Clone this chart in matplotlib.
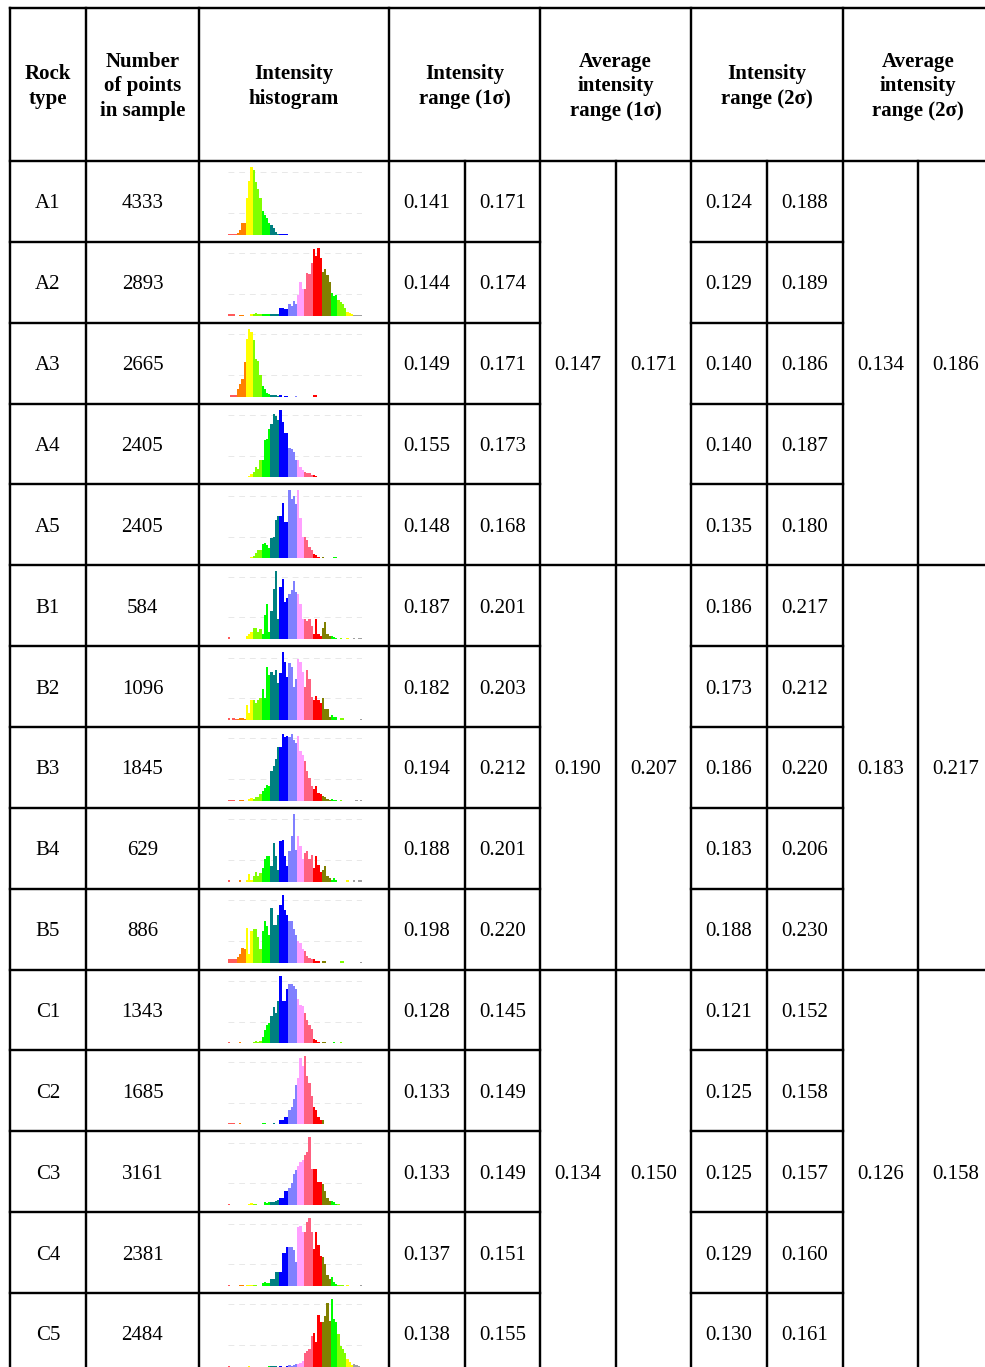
import matplotlib
matplotlib.use("Agg")
import matplotlib.pyplot as plt

# ---------------- data ----------------
rock_types = ["A1", "A2", "A3", "A4", "A5",
              "B1", "B2", "B3", "B4", "B5",
              "C1", "C2", "C3", "C4", "C5"]
n_points = [4333, 2893, 2665, 2405, 2405, 584, 1096, 1845, 629, 886,
            1343, 1685, 3161, 2381, 2484]
range1_lo = ["0.141", "0.144", "0.149", "0.155", "0.148", "0.187", "0.182", "0.194",
             "0.188", "0.198", "0.128", "0.133", "0.133", "0.137", "0.138"]
range1_hi = ["0.171", "0.174", "0.171", "0.173", "0.168", "0.201", "0.203", "0.212",
             "0.201", "0.220", "0.145", "0.149", "0.149", "0.151", "0.155"]
range2_lo = ["0.124", "0.129", "0.140", "0.140", "0.135", "0.186", "0.173", "0.186",
             "0.183", "0.188", "0.121", "0.125", "0.125", "0.129", "0.130"]
range2_hi = ["0.188", "0.189", "0.186", "0.187", "0.180", "0.217", "0.212", "0.220",
             "0.206", "0.230", "0.152", "0.158", "0.157", "0.160", "0.161"]
avg1_lo = ["0.147", "0.190", "0.134"]
avg1_hi = ["0.171", "0.207", "0.150"]
avg2_lo = ["0.134", "0.183", "0.126"]
avg2_hi = ["0.186", "0.217", "0.158"]

header_labels = ["Rock\ntype", "Number\nof points\nin sample", "Intensity\nhistogram",
                 "Intensity\nrange (1σ)", "Average\nintensity\nrange (1σ)",
                 "Intensity\nrange (2σ)", "Average\nintensity\nrange (2σ)"]

# histogram bar heights (relative counts, 60 bins each)
hist_A1 = [2, 2, 2, 2, 3, 7, 17, 17, 55, 80, 100, 95, 78, 68, 55, 35, 30, 25, 18, 14, 10, 4, 2,
           2, 2, 1, 1, 0, 0, 0, 0, 0, 0, 0, 0, 0, 0, 0, 0, 0, 0, 0, 0, 0, 0, 0, 0, 0, 0, 0,
           0, 0, 0, 0, 0, 0, 0, 0, 0, 0]
hist_A2 = [2, 2, 2, 0, 0, 1, 1, 0, 0, 0, 2, 3, 4, 3, 3, 2, 3, 3, 2, 3, 3, 3, 2, 11, 11, 10, 10,
           17, 14, 22, 18, 30, 49, 39, 39, 63, 61, 78, 99, 88, 100, 85, 64, 69, 60, 49, 34, 29,
           30, 23, 20, 17, 12, 6, 4, 2, 1, 1, 1, 1]
hist_A3 = [0, 3, 3, 3, 11, 19, 26, 51, 85, 100, 95, 83, 55, 53, 32, 16, 11, 6, 4, 2, 2, 2, 1,
           2, 0, 1, 1, 0, 0, 0, 1, 0, 0, 0, 0, 0, 0, 0, 2, 2, 0, 0, 0, 0, 0, 0, 0, 0, 0, 0,
           0, 0, 0, 0, 0, 0, 0, 0, 0, 0]
hist_A4 = [1, 1, 1, 0, 0, 1, 1, 0, 1, 2, 5, 8, 16, 13, 25, 25, 55, 57, 72, 79, 94, 90, 84,
           100, 82, 65, 65, 43, 42, 38, 25, 25, 16, 11, 8, 7, 6, 3, 3, 2, 1, 1, 1, 1, 0, 0,
           0, 0, 0, 0, 0, 0, 0, 0, 0, 0, 0, 0, 0, 0]
hist_A5 = [1, 1, 1, 0, 0, 1, 1, 0, 1, 1, 2, 3, 8, 12, 12, 21, 22, 19, 15, 30, 31, 57, 62,
           62, 82, 54, 54, 100, 88, 92, 80, 100, 60, 32, 32, 27, 17, 12, 7, 5, 2, 0, 2, 0, 0,
           0, 0, 2, 2, 0, 0, 0, 0, 0, 0, 0, 0, 0, 0, 1]
hist_B1 = [3, 0, 0, 0, 0, 0, 0, 0, 4, 7, 11, 17, 17, 10, 15, 7, 36, 52, 10, 42, 74, 100, 30,
           77, 89, 55, 60, 67, 72, 86, 70, 67, 52, 30, 30, 27, 30, 20, 7, 30, 7, 5, 17, 25,
           7, 4, 4, 3, 2, 0, 2, 0, 0, 2, 0, 0, 2, 0, 2, 2]
hist_B2 = [3, 0, 3, 2, 2, 3, 3, 2, 22, 10, 30, 29, 25, 29, 32, 45, 32, 78, 66, 71, 66, 73,
           54, 69, 100, 85, 63, 84, 78, 49, 60, 90, 85, 71, 49, 74, 61, 34, 29, 35, 29, 25,
           32, 16, 16, 5, 8, 4, 5, 0, 3, 3, 0, 0, 0, 0, 0, 0, 0, 2]
hist_B3 = [2, 2, 2, 0, 0, 2, 1, 0, 0, 3, 4, 3, 5, 6, 10, 14, 19, 24, 22, 44, 52, 62, 80,
           79, 99, 94, 96, 94, 99, 89, 85, 95, 74, 67, 59, 44, 34, 22, 17, 22, 12, 10, 7, 6,
           3, 2, 3, 2, 2, 0, 2, 0, 0, 0, 0, 0, 0, 2, 0, 1]
hist_B4 = [3, 0, 0, 0, 0, 2, 0, 0, 3, 11, 3, 8, 15, 8, 13, 20, 33, 38, 38, 23, 57, 38, 18,
           60, 62, 38, 23, 45, 67, 100, 47, 67, 52, 33, 43, 45, 33, 40, 20, 38, 25, 15, 18,
           23, 8, 5, 3, 6, 3, 0, 0, 0, 0, 2, 0, 0, 2, 0, 2, 2]
hist_B5 = [5, 5, 5, 5, 8, 12, 21, 20, 51, 12, 46, 50, 50, 37, 20, 46, 61, 54, 40, 80, 56,
           56, 70, 85, 100, 78, 70, 61, 61, 49, 40, 32, 29, 20, 17, 10, 7, 5, 6, 3, 2, 0, 2,
           2, 0, 0, 0, 0, 0, 0, 2, 2, 0, 0, 0, 0, 0, 0, 0, 1]
hist_C1 = [2, 0, 0, 0, 0, 2, 0, 0, 0, 0, 0, 2, 3, 2, 3, 10, 20, 27, 30, 40, 53, 45, 62, 100,
           62, 62, 80, 88, 88, 85, 80, 65, 57, 55, 45, 35, 27, 21, 7, 5, 2, 0, 2, 2, 0, 0,
           0, 2, 0, 0, 2, 0, 0, 0, 0, 0, 0, 0, 0, 1]
hist_C2 = [2, 2, 2, 0, 0, 2, 0, 0, 0, 0, 0, 1, 1, 1, 0, 2, 2, 1, 1, 1, 2, 1, 1, 6, 6, 11,
           11, 21, 26, 38, 58, 68, 98, 86, 100, 71, 61, 41, 26, 21, 11, 6, 6, 1, 0, 0, 1, 1,
           1, 0, 0, 0, 0, 0, 1, 0, 0, 0, 0, 1]
hist_C3 = [2, 0, 0, 0, 0, 0, 0, 0, 0, 2, 3, 2, 2, 1, 0, 0, 4, 3, 4, 5, 5, 6, 8, 11, 11, 21,
           21, 26, 33, 46, 52, 58, 63, 66, 74, 78, 100, 53, 54, 54, 34, 34, 31, 21, 10, 6, 6,
           4, 2, 2, 1, 0, 0, 0, 0, 0, 0, 1, 1, 0]
hist_C4 = [2, 0, 0, 0, 0, 2, 2, 0, 2, 2, 2, 2, 1, 0, 0, 4, 6, 5, 5, 11, 11, 21, 21, 21, 48,
           48, 58, 58, 58, 53, 35, 87, 89, 80, 80, 95, 100, 80, 55, 80, 60, 45, 43, 33, 16,
           10, 13, 6, 3, 2, 2, 1, 0, 1, 0, 0, 0, 0, 0, 1]
hist_C5 = [1, 0, 0, 0, 0, 0, 0, 0, 0, 1, 0, 0, 0, 0, 0, 0, 0, 0, 1, 1, 1, 1, 0, 1, 0, 0, 2,
           3, 2, 3, 4, 5, 6, 8, 20, 24, 26, 45, 50, 36, 77, 66, 66, 75, 94, 68, 100, 70, 66,
           49, 31, 26, 20, 11, 7, 3, 5, 3, 2, 0]
histograms = [hist_A1, hist_A2, hist_A3, hist_A4, hist_A5,
              hist_B1, hist_B2, hist_B3, hist_B4, hist_B5,
              hist_C1, hist_C2, hist_C3, hist_C4, hist_C5]

# ---------------- style ----------------
palette = {"sal": "#FF5A5A", "org": "#FF8000", "yel": "#FFFF00", "chr": "#80FF00",
           "grn": "#00FF00", "tea": "#008080", "blu": "#0000FF", "sla": "#8080FF",
           "vio": "#FFA0FF", "pnk": "#FF6080", "red": "#FF0000", "oli": "#808000",
           "lim": "#00FF00", "gry": "#A0A0A0"}
color_runs = [("sal", 4), ("org", 4), ("yel", 3), ("chr", 4), ("grn", 4), ("tea", 4),
              ("blu", 4), ("sla", 4), ("vio", 3), ("pnk", 4), ("red", 4), ("oli", 4),
              ("lim", 3), ("chr", 4), ("yel", 3), ("gry", 4)]
bin_colors = []
for key, n in color_runs:
    bin_colors += [palette[key]] * n

FONT = ["Liberation Serif", "DejaVu Serif"]
W, H = 985, 1367
fig = plt.figure(figsize=(W / 100, H / 100), dpi=100)
ax = fig.add_axes([0, 0, 1, 1])
ax.set_xlim(0, W)
ax.set_ylim(H, 0)
ax.axis("off")

col_x = [10, 86, 199, 389, 465, 540, 616, 691, 767, 843, 918, 993]
top_y = 8
head_bot = 161
row_h = 80.86
n_rows = len(rock_types)
row_y = [head_bot + i * row_h for i in range(n_rows + 1)]
lw = 2.4 * 72 / 100


def hline(y, x0, x1):
    ax.plot([x0, x1], [y, y], color="black", lw=lw, solid_capstyle="projecting")


def vline(x, y0, y1):
    ax.plot([x, x], [y0, y1], color="black", lw=lw, solid_capstyle="projecting")


hline(top_y, col_x[0], col_x[-1])
hline(head_bot, col_x[0], col_x[-1])
for i in range(1, n_rows + 1):
    y = row_y[i]
    if i % 5 == 0:
        hline(y, col_x[0], col_x[-1])
    else:
        hline(y, col_x[0], col_x[5])
        hline(y, col_x[7], col_x[9])
for k in [0, 1, 2, 3, 5, 7, 9, 11]:
    vline(col_x[k], top_y, row_y[-1])
for k in [4, 6, 8, 10]:
    vline(col_x[k], head_bot, row_y[-1])

# header
head_cols = [(0, 1), (1, 2), (2, 3), (3, 5), (5, 7), (7, 9), (9, 11)]
for (a, b), lab in zip(head_cols, header_labels):
    ax.text((col_x[a] + col_x[b]) / 2, (top_y + head_bot) / 2 + 2, lab, ha="center",
            va="center", fontsize=15, fontweight="bold", family=FONT, linespacing=1.27)

# body
base_off = 7
for i in range(n_rows):
    yc = (row_y[i] + row_y[i + 1]) / 2 + base_off
    vals = [(0, rock_types[i]), (1, str(n_points[i])), (3, range1_lo[i]), (4, range1_hi[i]),
            (7, range2_lo[i]), (8, range2_hi[i])]
    for k, s in vals:
        ax.text((col_x[k] + col_x[k + 1]) / 2, yc, s, ha="center", va="baseline",
                fontsize=15, family=FONT)
for g in range(3):
    yc = (row_y[g * 5] + row_y[g * 5 + 5]) / 2 + base_off
    for k, s in [(5, avg1_lo[g]), (6, avg1_hi[g]), (9, avg2_lo[g]), (10, avg2_hi[g])]:
        ax.text((col_x[k] + col_x[k + 1]) / 2, yc, s, ha="center", va="baseline",
                fontsize=15, family=FONT)

# histograms
hx0, hx1 = 228, 362
for i, h in enumerate(histograms):
    yb = row_y[i + 1] - 7
    yt = row_y[i] + 6
    hax = fig.add_axes([hx0 / W, 1 - yb / H, (hx1 - hx0) / W, (yb - yt) / H])
    hax.set_xlim(0, len(h))
    hax.set_ylim(0, 100)
    for gy in (32, 92):
        hax.axhline(gy, color="#e8e8e8", lw=0.7, ls=(0, (6, 5)), zorder=0)
    hax.bar(range(len(h)), h, width=1.0, align="edge", color=bin_colors[:len(h)],
            linewidth=0, zorder=2)
    hax.axis("off")

fig.savefig("out.png", dpi=100)
